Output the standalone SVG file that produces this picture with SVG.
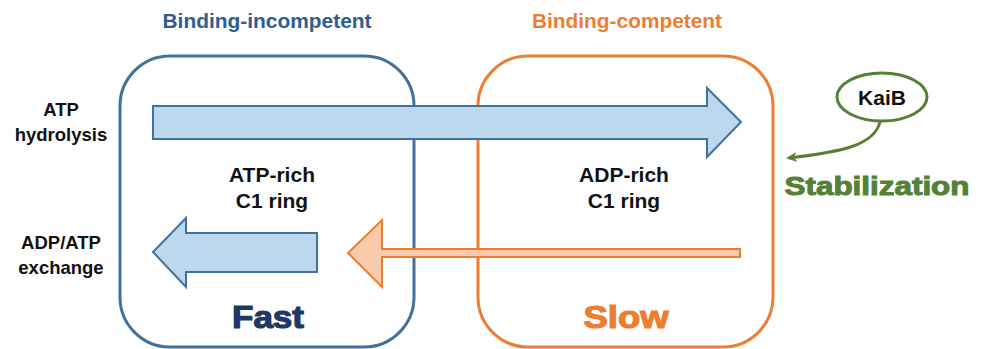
<svg xmlns="http://www.w3.org/2000/svg" width="985" height="349" viewBox="0 0 985 349">
<defs>
<style>
text{font-family:"Liberation Sans",Arial,sans-serif;text-anchor:middle}
.title{font-size:20px;font-weight:bold}
.lbl{font-size:18.5px;font-weight:bold;fill:#111}
.ctr{font-size:21px;font-weight:bold;fill:#111}
.big{font-size:32px;font-weight:900;stroke-width:1.2}
.box{fill:none;stroke-width:3}
.barrow{fill:#bdd7ee;stroke:#41719c;stroke-width:2;stroke-linejoin:miter}
.oarrow{fill:#f8cbad;stroke:#ed7d31;stroke-width:2;stroke-linejoin:miter}
</style>
<marker id="gh" markerWidth="12" markerHeight="12" refX="8" refY="6" orient="auto" markerUnits="userSpaceOnUse">
<path d="M0,1 L11,6 L0,11 L3,6 Z" fill="#548235"/>
</marker>
</defs>
<rect width="985" height="349" fill="#fff"/>
<g id="incompetent">
<rect class="box" x="120" y="56" width="294" height="291" rx="50" ry="50" stroke="#41719c"/>
<text class="title" x="267" y="28" fill="#2f5d8f" textLength="209" lengthAdjust="spacingAndGlyphs">Binding-incompetent</text>
<text class="ctr" x="272" y="182">ATP-rich</text>
<text class="ctr" x="272" y="208">C1 ring</text>
<text class="big" x="268" y="328" fill="#1f3864" stroke="#1f3864" textLength="72" lengthAdjust="spacingAndGlyphs">Fast</text>
</g>
<g id="competent">
<rect class="box" x="478" y="56" width="295" height="291" rx="50" ry="50" stroke="#ed7d31"/>
<text class="title" x="627" y="28" fill="#ed7d31" textLength="190" lengthAdjust="spacingAndGlyphs">Binding-competent</text>
<text class="ctr" x="624" y="182">ADP-rich</text>
<text class="ctr" x="624" y="208">C1 ring</text>
<text class="big" x="626" y="328" fill="#ed7d31" stroke="#ed7d31" textLength="85" lengthAdjust="spacingAndGlyphs">Slow</text>
</g>
<g id="labels">
<text class="lbl" x="61" y="116">ATP</text>
<text class="lbl" x="61" y="141">hydrolysis</text>
<text class="lbl" x="61" y="249">ADP/ATP</text>
<text class="lbl" x="61" y="274">exchange</text>
</g>
<g id="kaib">
<ellipse cx="882" cy="97" rx="45" ry="24" fill="#fff" stroke="#548235" stroke-width="3"/>
<text x="882" y="105" font-size="21" font-weight="bold" fill="#111">KaiB</text>
</g>
<g id="stabilization">
<text x="877" y="195" font-size="26" font-weight="900" fill="#548235" stroke="#548235" stroke-width="1" textLength="185" lengthAdjust="spacingAndGlyphs">Stabilization</text>
</g>
<g id="connectors">
<path class="barrow" d="M153,106 L707,106 L707,88 L741,122 L707,157 L707,139 L153,139 Z"/>
<path class="barrow" d="M317,233 L186,233 L186,218 L153,252 L186,287 L186,272 L317,272 Z"/>
<path class="oarrow" d="M740,249 L382,249 L382,220 L348,253 L382,287 L382,257 L740,257 Z"/>
<path d="M880,122 C874,146 840,152 789,158" fill="none" stroke="#548235" stroke-width="3" marker-end="url(#gh)"/>
</g>
</svg>
